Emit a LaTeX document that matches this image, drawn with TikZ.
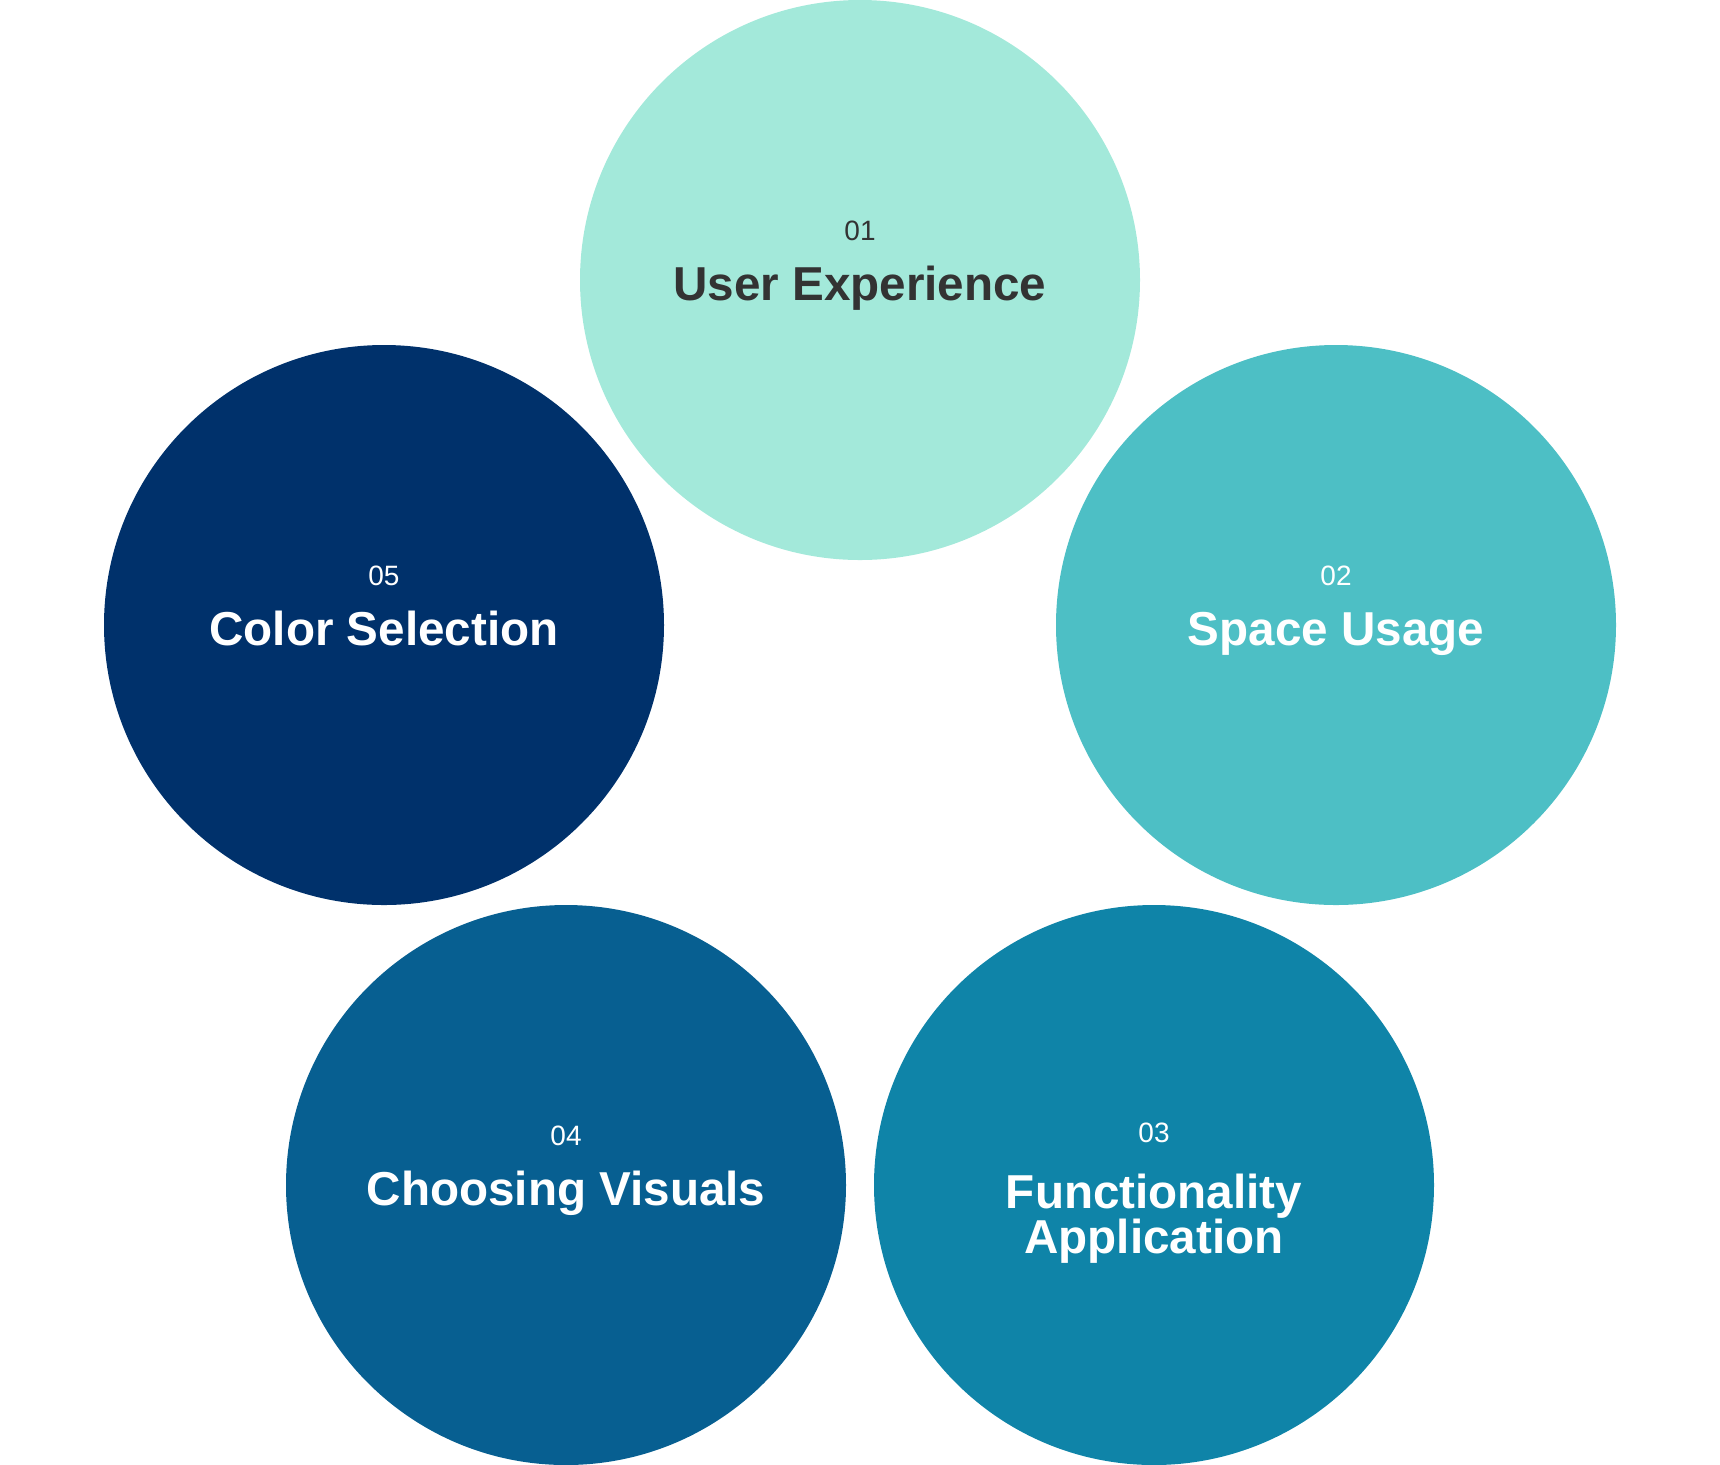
\documentclass[tikz,border=0pt]{standalone}
\usepackage{fontspec}
\setmainfont{Liberation Sans}
\usepackage{xcolor}
\usepackage{tikz}
\usetikzlibrary{positioning}

\definecolor{mint}{HTML}{A3E9DA}
\definecolor{teal}{HTML}{4DBFC5}
\definecolor{ocean}{HTML}{0F84A8}
\definecolor{sea}{HTML}{075F91}
\definecolor{navy}{HTML}{00316B}
\definecolor{ink}{HTML}{333333}

\begin{document}
\begin{tikzpicture}[
  x=0.5pt, y=-0.5pt,
  bubble/.style={circle, minimum size=280pt, inner sep=0pt, draw=none},
  num/.style={anchor=base, inner sep=0pt, font=\fontsize{14}{16}\selectfont},
  title/.style={anchor=base, inner sep=0pt, align=center,
                font=\fontsize{23.8}{22.5}\selectfont\bfseries}
]
\useasboundingbox (0,0) rectangle (1720,1464);

\node[bubble, fill=mint] (ux) at (860,280) {};
\node[bubble, fill=teal] (space) at (1336,625) {};
\node[bubble, fill=ocean] (func) at (1154,1185) {};
\node[bubble, fill=sea] (visual) at (566,1185) {};
\node[bubble, fill=navy] (color) at (384,625) {};

% numbers and titles
\node[num, text=ink] (uxnum) at ([yshift=20pt]ux.center) {01};
\node[title, text=ink] (uxtitle) at ([yshift=-10pt]ux.center) {User Experience};

\node[num, text=white] (spacenum) at ([yshift=20pt]space.center) {02};
\node[title, text=white] (spacetitle) at ([yshift=-10pt]space.center) {Space Usage};

\node[num, text=white] (funcnum) at ([yshift=21.5pt]func.center) {03};
\node[title, text=white] (functitle) at ([yshift=-34pt]func.center)
    {Functionality\\Application};

\node[num, text=white] (visualnum) at ([yshift=20pt]visual.center) {04};
\node[title, text=white] (visualtitle) at ([yshift=-10pt]visual.center) {Choosing Visuals};

\node[num, text=white] (colornum) at ([yshift=20pt]color.center) {05};
\node[title, text=white] (colortitle) at ([yshift=-10pt]color.center) {Color Selection};
\end{tikzpicture}
\end{document}
